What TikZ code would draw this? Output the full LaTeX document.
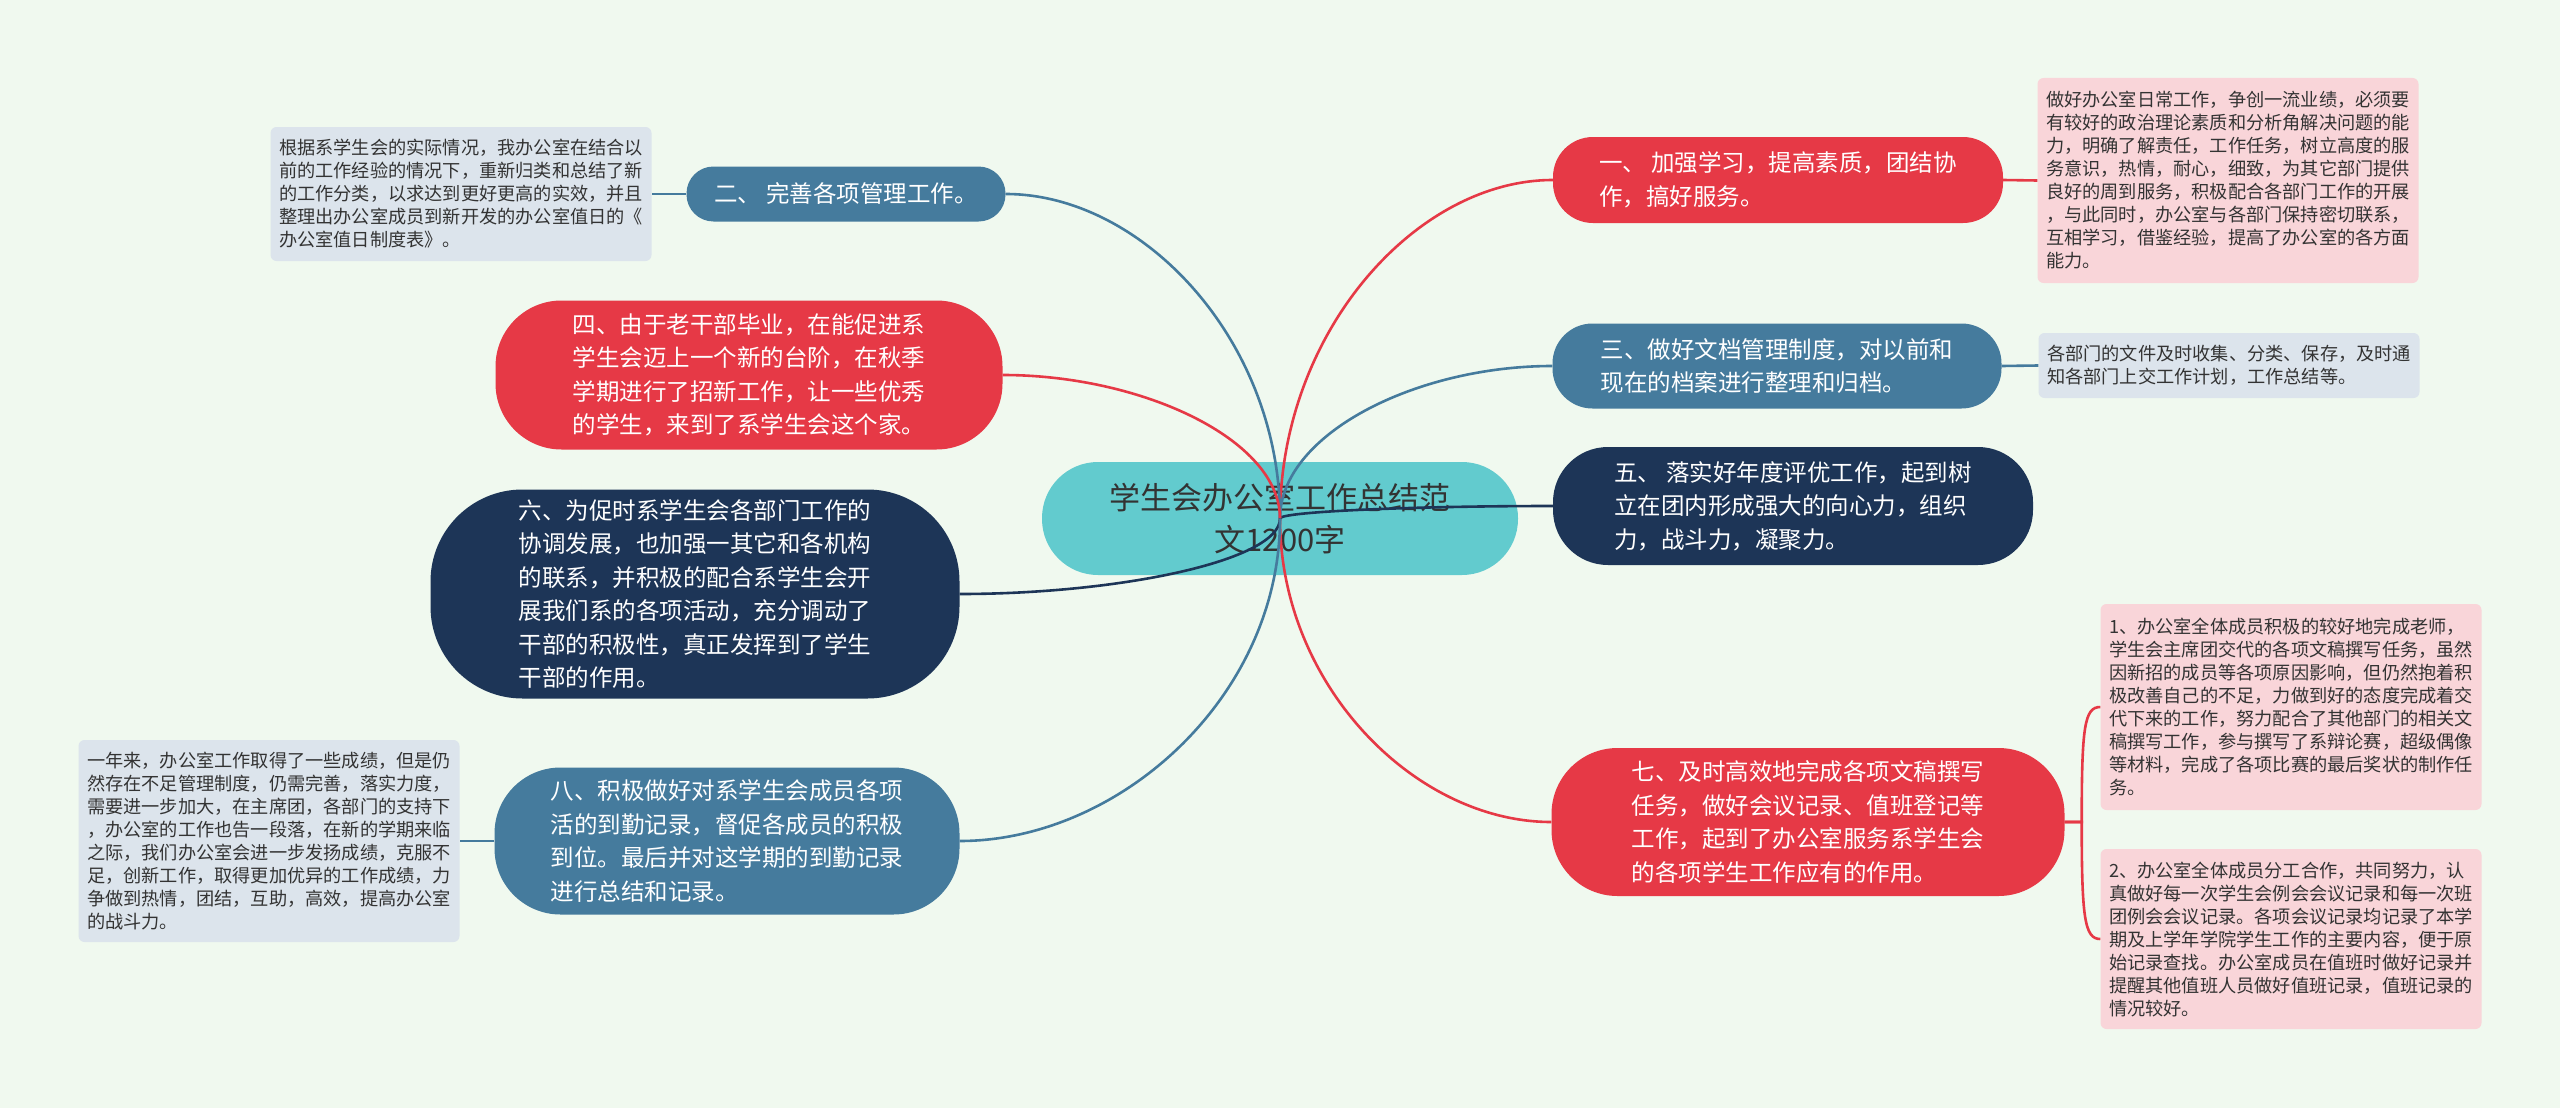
\documentclass[tikz,border=0pt]{standalone}
\usepackage{fontspec}
\newfontfamily\cjk{Noto Sans CJK SC}
\definecolor{bg}{HTML}{F0F9EF}
\definecolor{cred}{HTML}{E63946}
\definecolor{cblue}{HTML}{457B9D}
\definecolor{cnavy}{HTML}{1D3557}
\definecolor{cteal}{HTML}{62CBCE}
\definecolor{dblue}{HTML}{DCE4EC}
\definecolor{dpink}{HTML}{F9D5D9}
\definecolor{txt}{HTML}{333333}
\begin{document}
\begin{tikzpicture}[x=1pt,y=-1pt,
  mainnode/.style={font=\cjk\fontsize{23.5}{33.5}\selectfont, text=white, align=left, inner sep=0pt},
  detailnode/.style={font=\cjk\fontsize{18.2}{23}\selectfont, text=txt, align=left, inner sep=0pt, rounded corners=6pt, minimum width=381pt},
  link/.style={line width=2.6pt}
]
\fill[bg] (0,0) rectangle (2560,1108);
\useasboundingbox (0,0) rectangle (2560,1108);

% central
\node[fill=cteal, text=txt, rounded corners=56pt, minimum width=476pt, minimum height=113pt, align=center, inner sep=0pt, font=\cjk\fontsize{31}{42}\selectfont] (root) at (1280,518.5) {学生会办公室工作总结范\\文1200字};

% level 1, right
\node[mainnode, fill=cred, rounded corners=40pt, minimum width=450pt, minimum height=86pt] (n1) at (1778,180) {一、 加强学习，提高素质，团结协\\作，搞好服务。};
\node[mainnode, fill=cblue, rounded corners=40pt, minimum width=449pt, minimum height=85pt] (n3) at (1777,366) {三、做好文档管理制度，对以前和\\现在的档案进行整理和归档。};
\node[mainnode, fill=cnavy, rounded corners=55pt, minimum width=480pt, minimum height=118pt] (n5) at (1793,506) {五、 落实好年度评优工作，起到树\\立在团内形成强大的向心力，组织\\力，战斗力，凝聚力。};
\node[mainnode, fill=cred, rounded corners=66pt, minimum width=513pt, minimum height=148pt] (n7) at (1808,822) {七、及时高效地完成各项文稿撰写\\任务，做好会议记录、值班登记等\\工作，起到了办公室服务系学生会\\的各项学生工作应有的作用。};

% level 1, left
\node[mainnode, fill=cblue, rounded corners=27pt, minimum width=319pt, minimum height=55pt] (n2) at (846,194) {二、 完善各项管理工作。};
\node[mainnode, fill=cred, rounded corners=66pt, minimum width=507pt, minimum height=149pt] (n4) at (749,375) {四、由于老干部毕业，在能促进系\\学生会迈上一个新的台阶，在秋季\\学期进行了招新工作，让一些优秀\\的学生，来到了系学生会这个家。};
\node[mainnode, fill=cnavy, rounded corners=92pt, minimum width=529pt, minimum height=209pt] (n6) at (695,594) {六、为促时系学生会各部门工作的\\协调发展，也加强一其它和各机构\\的联系，并积极的配合系学生会开\\展我们系的各项活动，充分调动了\\干部的积极性，真正发挥到了学生\\干部的作用。};
\node[mainnode, fill=cblue, rounded corners=66pt, minimum width=465pt, minimum height=147pt] (n8) at (727,841) {八、积极做好对系学生会成员各项\\活的到勤记录，督促各成员的积极\\到位。最后并对这学期的到勤记录\\进行总结和记录。};

% details
\node[detailnode, fill=dblue, minimum height=134pt] (d2) at (461,194) {根据系学生会的实际情况，我办公室在结合以\\前的工作经验的情况下，重新归类和总结了新\\的工作分类，以求达到更好更高的实效，并且\\整理出办公室成员到新开发的办公室值日的《\\办公室值日制度表》。};
\node[detailnode, fill=dblue, minimum height=202pt] (d8) at (269,841) {一年来，办公室工作取得了一些成绩，但是仍\\然存在不足管理制度，仍需完善，落实力度，\\需要进一步加大，在主席团，各部门的支持下\\，办公室的工作也告一段落，在新的学期来临\\之际，我们办公室会进一步发扬成绩，克服不\\足，创新工作，取得更加优异的工作成绩，力\\争做到热情，团结，互助，高效，提高办公室\\的战斗力。};
\node[detailnode, fill=dpink, minimum height=205pt] (d1) at (2228,180.5) {做好办公室日常工作，争创一流业绩，必须要\\有较好的政治理论素质和分析角解决问题的能\\力，明确了解责任，工作任务，树立高度的服\\务意识，热情，耐心，细致，为其它部门提供\\良好的周到服务，积极配合各部门工作的开展\\，与此同时，办公室与各部门保持密切联系，\\互相学习，借鉴经验，提高了办公室的各方面\\能力。};
\node[detailnode, fill=dblue, minimum height=65pt] (d3) at (2229,365.5) {各部门的文件及时收集、分类、保存，及时通\\知各部门上交工作计划，工作总结等。};
\node[detailnode, fill=dpink, minimum height=206pt] (d7a) at (2291,707) {1、办公室全体成员积极的较好地完成老师，\\学生会主席团交代的各项文稿撰写任务，虽然\\因新招的成员等各项原因影响，但仍然抱着积\\极改善自己的不足，力做到好的态度完成着交\\代下来的工作，努力配合了其他部门的相关文\\稿撰写工作，参与撰写了系辩论赛，超级偶像\\等材料，完成了各项比赛的最后奖状的制作任\\务。};
\node[detailnode, fill=dpink, minimum height=180pt] (d7b) at (2291,939) {2、办公室全体成员分工合作，共同努力，认\\真做好每一次学生会例会会议记录和每一次班\\团例会会议记录。各项会议记录均记录了本学\\期及上学年学院学生工作的主要内容，便于原\\始记录查找。办公室成员在值班时做好记录并\\提醒其他值班人员做好值班记录，值班记录的\\情况较好。};

% connectors from root
\draw[link, cred]  (root.center) .. controls +(0,-186) and +(-137,0) .. (n1.west);
\draw[link, cblue] (root.center) .. controls +(0,-84) and +(-137,0) .. (n3.west);
\draw[link, cnavy] (root.center) .. controls +(0,-7) and +(-137,0) .. (n5.west);
\draw[link, cred]  (root.center) .. controls +(0,167) and +(-136,0) .. (n7.west);
\draw[link, cblue] (root.center) .. controls +(0,-178) and +(137,0) .. (n2.east);
\draw[link, cred]  (root.center) .. controls +(0,-79) and +(139,0) .. (n4.east);
\draw[link, cnavy] (root.center) .. controls +(0,42) and +(160,0) .. (n6.east);
\draw[link, cblue] (root.center) .. controls +(0,178) and +(160,0) .. (n8.east);

% detail connectors
\draw[link, cblue] (n2.west) -- (d2.east);
\draw[link, cblue] (n8.west) -- (d8.east);
\draw[link, cred]  (n1.east) -- (d1.west);
\draw[link, cblue] (n3.east) -- (d3.west);
\draw[link, cred]  (n7.east) -- ++(17,0) .. controls +(0,-95) and +(-16,0) .. (d7a.west);
\draw[link, cred]  (n7.east) -- ++(17,0) .. controls +(0,95) and +(-16,0) .. (d7b.west);
\end{tikzpicture}
\end{document}
